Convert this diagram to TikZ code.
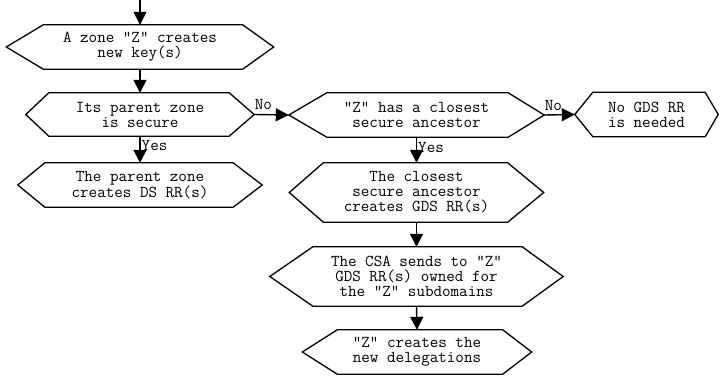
\documentclass[tikz,border=0pt]{standalone}
\usepackage{fontspec}
\usetikzlibrary{arrows.meta}
\tikzset{
  hexbox/.style={draw=none, inner sep=0pt, align=center, font=\ttfamily\fontsize{16.6}{15}\selectfont},
  hexline/.style={line width=1.3pt, line join=miter},
  flow/.style={line width=1.4pt, -{Triangle[width=13pt,length=13pt]}},
  lbl/.style={font=\ttfamily\fontsize{16.6}{15}\selectfont, inner sep=0pt}
}
\newcommand\hexa[3]{\draw[hexline] (#1.west) -- ([xshift=#2pt]#1.north west) -- ([xshift=-#3pt]#1.north east) -- (#1.east) -- ([xshift=-#3pt]#1.south east) -- ([xshift=#2pt]#1.south west) -- cycle;}
\begin{document}
\begin{tikzpicture}[x=1pt,y=-1pt]
\useasboundingbox (0,0) rectangle (720,377);
\coordinate (start) at (140,0);
\node[hexbox, minimum width=267pt, minimum height=44pt] (b1) at (140,47) {A zone "Z" creates\\new key(s)};
\node[hexbox, minimum width=228pt, minimum height=43pt] (b2) at (140,114.5) {Its parent zone\\is secure};
\node[hexbox, minimum width=244pt, minimum height=44pt] (b3) at (140,185) {The parent zone\\creates DS RR(s)};
\node[hexbox, minimum width=255pt, minimum height=44pt] (b4) at (416.5,115) {"Z" has a closest\\secure ancestor};
\node[hexbox, minimum width=143pt, minimum height=44pt] (b5) at (646.5,114.5) {No GDS RR\\is needed};
\node[hexbox, minimum width=254pt, minimum height=59pt] (b6) at (416.5,192.5) {The closest\\secure ancestor\\creates GDS RR(s)};
\node[hexbox, minimum width=293pt, minimum height=59pt] (b7) at (416.5,276.5) {The CSA sends to "Z"\\GDS RR(s) owned for\\the "Z" subdomains};
\node[hexbox, minimum width=229pt, minimum height=44pt] (b8) at (417,352) {"Z" creates the\\new delegations};
\hexa{b1}{37}{31}
\hexa{b2}{23}{25}
\hexa{b3}{27}{29}
\hexa{b4}{38}{36}
\hexa{b5}{18}{13}
\hexa{b6}{34}{36}
\hexa{b7}{43}{41}
\hexa{b8}{35}{29}
\draw[flow] (start) -- (b1.north);
\draw[flow] (b1.south) -- (b2.north);
\draw[flow] (b2.south) -- (b3.north) node[lbl, pos=0.35, anchor=west, xshift=1pt] (y1) {Yes};
\draw[flow] (b2.east) -- (b4.west) node[lbl, pos=0, anchor=south west, yshift=4pt] (n1) {No};
\draw[flow] (b4.east) -- (b5.west) node[lbl, pos=0, anchor=south west, yshift=4pt] (n2) {No};
\draw[flow] (b4.south) -- (b6.north) node[lbl, pos=0.4, anchor=west, xshift=1pt] (y2) {Yes};
\draw[flow] (b6.south) -- (b7.north);
\draw[flow] (b7.south) -- (b8.north);
\end{tikzpicture}
\end{document}
